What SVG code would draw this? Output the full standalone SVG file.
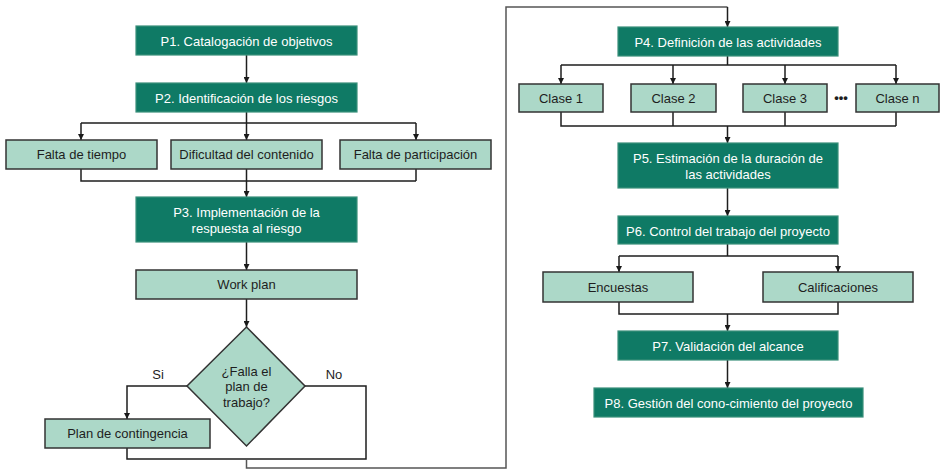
<svg xmlns="http://www.w3.org/2000/svg" width="944" height="470" viewBox="0 0 944 470">
<defs>
<marker id="ah" viewBox="0 0 10 10" refX="10" refY="5" markerWidth="6" markerHeight="6" markerUnits="userSpaceOnUse" orient="auto">
<path d="M0,0 L10,5 L0,10 z" fill="#1a1a1a"/>
</marker>
</defs>
<style>
.dk{fill:#0f7a65;stroke:#3a8f7b;stroke-width:1.2}
.lt{fill:#acd8c8;stroke:#333333;stroke-width:1.5}
.tw{fill:#ffffff;font-family:"Liberation Sans",Arial,sans-serif;font-size:13px;text-anchor:middle}
.tb{fill:#1e1e1e;font-family:"Liberation Sans",Arial,sans-serif;font-size:13px;text-anchor:middle}
.c{fill:none;stroke:#1e1e1e;stroke-width:1.5}
.cg{fill:none;stroke:#555555;stroke-width:1.5}
.a{marker-end:url(#ah)}
</style>
<rect width="944" height="470" fill="#ffffff"/>
<g id="connectors">
<path class="c a" d="M246.5,55 V83"/>
<path class="c" d="M246.5,112 V123 M81,123 H416"/>
<path class="c a" d="M81,123 V140"/>
<path class="c a" d="M246.5,123 V140"/>
<path class="c a" d="M416,123 V140"/>
<path class="c" d="M81,169 V181 H416 M246.5,169 V181 M416,169 V181"/>
<path class="c a" d="M246.5,181 V197"/>
<path class="c a" d="M246.5,242 V270"/>
<path class="c a" d="M246.5,299 V327"/>
<path class="c a" d="M187,386 H127 V419"/>
<path class="c" d="M305,386 H366 V459 H127 V448"/>
<path class="cg" d="M246.5,459 V468 H506 V7 H727.5"/>
<path class="c a" d="M727.5,7 V27"/>
<path class="c" d="M727.5,56 V65 M561,65 H896"/>
<path class="c a" d="M561,65 V84"/>
<path class="c a" d="M673,65 V84"/>
<path class="c a" d="M785,65 V84"/>
<path class="c a" d="M896,65 V84"/>
<path class="c" d="M561,112 V126 H896 M673,112 V126 M785,112 V126 M896,112 V126"/>
<path class="c a" d="M727.5,126 V143"/>
<path class="c a" d="M727.5,188 V216"/>
<path class="c" d="M727.5,244 V256 M619,256 H838"/>
<path class="c a" d="M619,256 V272"/>
<path class="c a" d="M838,256 V272"/>
<path class="c" d="M619,302 V314 H838 V302"/>
<path class="c a" d="M727.5,314 V331"/>
<path class="c a" d="M727.5,360 V388"/>
</g>
<g id="p1"><rect class="dk" x="136" y="26" width="221" height="29"/><text class="tw" x="246.5" y="46">P1. Catalogación de objetivos</text></g>
<g id="p2"><rect class="dk" x="136" y="83" width="221" height="29"/><text class="tw" x="246.5" y="103">P2. Identificación de los riesgos</text></g>
<g id="r1"><rect class="lt" x="6" y="140" width="151" height="29"/><text class="tb" x="81.5" y="159">Falta de tiempo</text></g>
<g id="r2"><rect class="lt" x="171" y="140" width="151" height="29"/><text class="tb" x="246.5" y="159">Dificultad del contenido</text></g>
<g id="r3"><rect class="lt" x="340" y="140" width="151" height="29"/><text class="tb" x="415.5" y="159">Falta de participación</text></g>
<g id="p3"><rect class="dk" x="136" y="197" width="221" height="45"/><text class="tw" x="246.5" y="217">P3. Implementación de la</text><text class="tw" x="246.5" y="233">respuesta al riesgo</text></g>
<g id="workplan"><rect class="lt" x="136" y="270" width="221" height="29"/><text class="tb" x="246.5" y="289">Work plan</text></g>
<g id="decision"><polygon class="lt" points="246.5,327 305,386 246.5,446 187,386"/><text class="tb" x="246.5" y="376">¿Falla el</text><text class="tb" x="246.5" y="391">plan de</text><text class="tb" x="246.5" y="407">trabajo?</text></g>
<g id="lbl-si"><text class="tb" x="158" y="379">Si</text></g>
<g id="lbl-no"><text class="tb" x="334" y="379">No</text></g>
<g id="contingencia"><rect class="lt" x="45" y="419" width="165" height="29"/><text class="tb" x="127.5" y="438">Plan de contingencia</text></g>
<g id="p4"><rect class="dk" x="618" y="27" width="220" height="29"/><text class="tw" x="728" y="47">P4. Definición de las actividades</text></g>
<g id="c1"><rect class="lt" x="519" y="84" width="84" height="28"/><text class="tb" x="561" y="103">Clase 1</text></g>
<g id="c2"><rect class="lt" x="631" y="84" width="85" height="28"/><text class="tb" x="673.5" y="103">Clase 2</text></g>
<g id="c3"><rect class="lt" x="743" y="84" width="84" height="28"/><text class="tb" x="785" y="103">Clase 3</text></g>
<g id="dots"><text class="tb" x="841" y="102" style="font-weight:bold">•••</text></g>
<g id="cn"><rect class="lt" x="856" y="84" width="83" height="28"/><text class="tb" x="897.5" y="103">Clase n</text></g>
<g id="p5"><rect class="dk" x="618" y="143" width="220" height="45"/><text class="tw" x="728" y="163">P5. Estimación de la duración de</text><text class="tw" x="728" y="179">las actividades</text></g>
<g id="p6"><rect class="dk" x="618" y="216" width="220" height="28"/><text class="tw" x="728" y="236">P6. Control del trabajo del proyecto</text></g>
<g id="encuestas"><rect class="lt" x="543" y="272" width="150" height="30"/><text class="tb" x="618" y="292">Encuestas</text></g>
<g id="calif"><rect class="lt" x="763" y="272" width="150" height="30"/><text class="tb" x="838" y="292">Calificaciones</text></g>
<g id="p7"><rect class="dk" x="618" y="331" width="220" height="29"/><text class="tw" x="728" y="351">P7. Validación del alcance</text></g>
<g id="p8"><rect class="dk" x="594" y="388" width="269" height="29"/><text class="tw" x="728.5" y="408">P8. Gestión del cono-cimiento del proyecto</text></g>
</svg>
